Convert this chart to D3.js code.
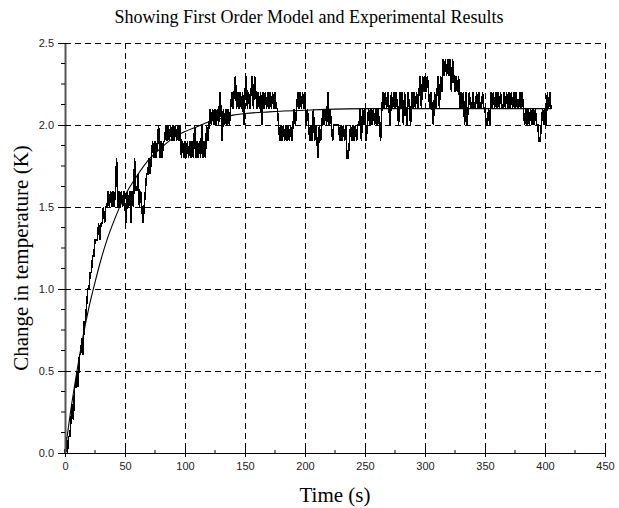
<!DOCTYPE html>
<html>
<head>
<meta charset="utf-8">
<script src="https://cdn.jsdelivr.net/npm/d3@7"></script>
<style>
  html, body { margin: 0; padding: 0; background: #fff; }
  svg { display: block; }
</style>
</head>
<body>
<svg id="chart" width="619" height="508"></svg>
<script>
// Measured temperature rise (K), one sample per second starting at t = 0 s
const sampleStep = 1;
const measuredK = [
  0.0,0.1,0.0,0.1,0.1,0.2,0.3,0.2,0.4,0.4,
  0.5,0.4,0.6,0.6,0.7,0.6,0.8,0.8,0.9,1.0,
  1.0,1.1,1.1,1.2,1.2,1.3,1.3,1.3,1.4,1.3,
  1.4,1.4,1.5,1.4,1.5,1.5,1.6,1.5,1.6,1.5,
  1.6,1.5,1.6,1.8,1.5,1.6,1.5,1.6,1.5,1.6,
  1.5,1.4,1.6,1.5,1.6,1.4,1.6,1.5,1.8,1.6,
  1.6,1.7,1.5,1.6,1.5,1.4,1.5,1.6,1.7,1.7,
  1.8,1.7,1.8,1.9,1.8,1.9,1.8,1.9,2.0,1.8,
  1.9,1.8,1.9,1.9,2.0,1.9,2.0,1.9,2.0,1.9,
  2.0,1.9,2.0,1.9,2.0,1.9,2.0,1.8,1.9,1.8,
  1.9,1.8,1.9,1.8,1.9,1.8,1.9,1.8,2.0,1.8,
  1.9,1.8,1.9,1.8,2.0,1.8,1.9,1.8,2.0,1.9,
  2.0,2.1,2.0,2.1,2.0,2.1,2.0,2.1,2.0,2.2,
  2.1,1.9,2.1,2.0,2.1,2.0,2.1,2.0,2.1,2.2,
  2.1,2.2,2.3,2.1,2.2,2.1,2.2,2.1,2.2,2.0,
  2.2,2.3,2.1,2.2,2.1,2.2,2.3,2.1,2.3,2.2,
  2.1,2.2,2.1,2.2,2.0,2.2,2.1,2.2,2.1,2.2,
  2.1,2.2,2.1,2.2,2.1,2.2,2.1,2.1,2.0,1.9,
  2.0,1.9,2.0,1.9,2.0,1.9,2.0,1.9,2.0,1.9,
  2.0,2.1,2.0,2.1,2.2,2.1,2.2,2.1,2.2,2.1,
  2.2,2.0,2.1,2.0,1.9,2.0,1.9,2.1,1.9,2.0,
  1.9,1.8,2.0,1.9,2.0,2.1,2.0,2.1,2.0,2.2,
  2.0,2.1,2.0,1.9,2.0,2.0,2.0,2.0,2.0,1.9,
  2.0,1.9,2.0,1.9,2.0,1.8,1.8,1.9,2.0,1.9,
  2.0,1.9,2.0,1.9,2.0,2.0,2.1,1.9,2.1,2.0,
  2.1,1.9,2.0,2.1,2.0,2.1,2.0,2.1,2.0,2.1,
  2.0,2.1,2.0,1.9,2.1,2.2,2.1,2.2,2.1,2.2,
  2.1,2.0,2.2,2.1,2.2,2.1,2.2,2.1,2.0,2.2,
  2.1,2.2,2.0,2.2,2.1,2.0,2.2,2.1,2.0,2.2,
  2.1,2.2,2.1,2.2,2.1,2.2,2.3,2.1,2.3,2.2,
  2.3,2.2,2.3,2.2,2.1,2.2,2.1,2.0,2.2,2.1,
  2.2,2.3,2.1,2.3,2.2,2.4,2.3,2.4,2.3,2.4,
  2.3,2.4,2.2,2.4,2.3,2.2,2.3,2.2,2.3,2.1,
  2.2,2.1,2.2,2.0,2.2,2.0,2.1,2.2,2.1,2.1,
  2.2,2.1,2.1,2.2,2.1,2.2,2.1,2.1,2.2,2.1,
  2.1,2.0,2.0,2.1,2.0,2.2,2.1,2.2,2.1,2.2,
  2.1,2.2,2.1,2.2,2.1,2.1,2.2,2.1,2.2,2.1,
  2.2,2.1,2.2,2.1,2.2,2.1,2.2,2.1,2.1,2.2,
  2.1,2.2,2.1,2.0,2.1,2.0,2.1,2.0,2.1,2.0,
  2.1,2.0,2.1,2.0,2.0,1.9,1.9,2.0,2.1,2.0,
  2.1,2.0,2.2,2.1,2.2,2.1
];

// First order model response, sampled along the curve
const modelTime = [0,5,10,15,20,25,30,35,40,45,50,60,70,80,90,100,110,120,130,140,150,170,200,250,300,350,405];
const modelK    = [0,0.27,0.50,0.71,0.89,1.04,1.18,1.30,1.40,1.49,1.57,1.69,1.79,1.86,1.92,1.96,1.99,2.02,2.04,2.06,2.07,2.08,2.09,2.10,2.10,2.10,2.10];

// Axis ticks
const xMajor = [0,50,100,150,200,250,300,350,400,450];
const xMinor = [25,75,125,175,225,275,325,375,425];
const yMajor = [0.0,0.5,1.0,1.5,2.0,2.5];
const yMinor = [0.125,0.25,0.375,0.625,0.75,0.875,1.125,1.25,1.375,1.625,1.75,1.875,2.125,2.25,2.375];

const titleText = "Showing First Order Model and Experimental Results";
const xTitle = "Time (s)";
const yTitle = "Change in temperature (K)";

const svg = d3.select("#chart");
const plotLeft = 65, plotRight = 605, plotTop = 43, plotBottom = 453;

const x = d3.scaleLinear().domain([0, 450]).range([plotLeft, plotRight]);
const y = d3.scaleLinear().domain([0, 2.5]).range([plotBottom, plotTop]);

// Dashed grid, including the closing lines at the top and right
const grid = svg.append("g").attr("stroke", "#000").attr("stroke-width", 1)
  .attr("stroke-dasharray", "6,4").attr("shape-rendering", "crispEdges");
grid.selectAll("line.v").data(xMajor.filter(d => d > 0)).join("line")
  .attr("class", "v")
  .attr("x1", d => x(d)).attr("x2", d => x(d))
  .attr("y1", y(2.5)).attr("y2", y(0));
grid.selectAll("line.h").data(yMajor.filter(d => d > 0)).join("line")
  .attr("class", "h")
  .attr("x1", x(0)).attr("x2", x(450))
  .attr("y1", d => y(d)).attr("y2", d => y(d));

// Measured data
const measured = measuredK.map((v, i) => [i * sampleStep, v]);
svg.append("path")
  .datum(measured)
  .attr("fill", "none")
  .attr("stroke", "#000")
  .attr("stroke-width", 1.6)
  .attr("stroke-linejoin", "miter")
  .attr("shape-rendering", "crispEdges")
  .attr("d", d3.line().x(d => x(d[0])).y(d => y(d[1])));

// Model curve
svg.append("path")
  .datum(modelTime.map((t, i) => [t, modelK[i]]))
  .attr("fill", "none")
  .attr("stroke", "#000")
  .attr("stroke-width", 1.1)
  .attr("d", d3.line().curve(d3.curveMonotoneX).x(d => x(d[0])).y(d => y(d[1])));

// X axis
const xAxis = svg.append("g").attr("transform", `translate(0,${plotBottom})`)
  .call(d3.axisBottom(x).tickValues(xMajor).tickSize(4).tickSizeOuter(0).tickFormat(d3.format("d")));
xAxis.select(".domain").attr("stroke", "#000").attr("stroke-width", 1.2);
xAxis.selectAll(".tick line").attr("y1", -4).attr("y2", 4);
xAxis.selectAll(".tick text")
  .attr("y", 9).attr("dy", "0.71em")
  .attr("font-family", "'Liberation Sans', Arial, sans-serif")
  .attr("font-size", 11).attr("fill", "#222");
svg.append("g").selectAll("line").data(xMinor).join("line")
  .attr("x1", d => x(d)).attr("x2", d => x(d))
  .attr("y1", plotBottom - 3).attr("y2", plotBottom)
  .attr("stroke", "#000");

// Y axis
const yAxis = svg.append("g").attr("transform", `translate(${plotLeft},0)`)
  .call(d3.axisLeft(y).tickValues(yMajor).tickSize(7).tickSizeOuter(0).tickFormat(d3.format(".1f")));
yAxis.select(".domain").attr("stroke", "#555").attr("stroke-width", 2);
yAxis.selectAll(".tick line").attr("x1", 5).attr("x2", -7).attr("stroke", "#000");
yAxis.selectAll(".tick text")
  .attr("x", -11)
  .attr("font-family", "'Liberation Sans', Arial, sans-serif")
  .attr("font-size", 11).attr("fill", "#222");
svg.append("g").selectAll("line").data(yMinor).join("line")
  .attr("x1", plotLeft - 4).attr("x2", plotLeft)
  .attr("y1", d => y(d)).attr("y2", d => y(d))
  .attr("stroke", "#000");

// Titles
svg.append("text")
  .attr("x", 309).attr("y", 23)
  .attr("text-anchor", "middle")
  .attr("font-family", "'Liberation Serif', 'Times New Roman', serif")
  .attr("font-size", 18)
  .text(titleText);
svg.append("text")
  .attr("x", (plotLeft + plotRight) / 2).attr("y", 502)
  .attr("text-anchor", "middle")
  .attr("font-family", "'Liberation Serif', 'Times New Roman', serif")
  .attr("font-size", 21)
  .text(xTitle);
svg.append("text")
  .attr("transform", `translate(28,${(plotTop + plotBottom) / 2 + 10}) rotate(-90)`)
  .attr("text-anchor", "middle")
  .attr("font-family", "'Liberation Serif', 'Times New Roman', serif")
  .attr("font-size", 21)
  .text(yTitle);
</script>
</body>
</html>
